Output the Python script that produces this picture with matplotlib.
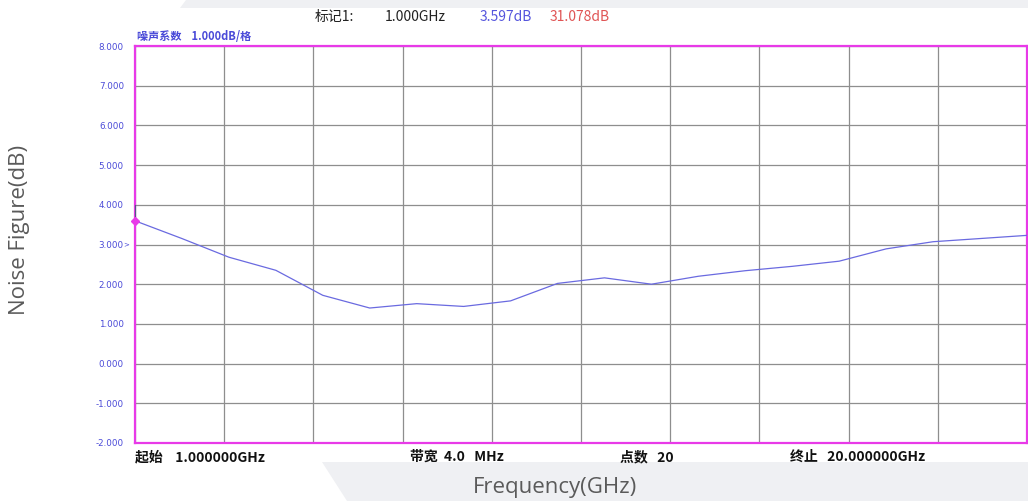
import matplotlib

matplotlib.use("Agg")
import matplotlib.pyplot as plt
from matplotlib.patches import Polygon

# trace values
FREQ_GHZ = list(range(1, 21))
NOISE_FIGURE_DB = [3.597, 3.15, 2.68, 2.35, 1.72, 1.40, 1.51, 1.44, 1.58, 2.02,
                   2.16, 2.00, 2.20, 2.34, 2.45, 2.58, 2.89, 3.07, 3.15, 3.23]
Y_TICKS = [-2, -1, 0, 1, 2, 3, 4, 5, 6, 7, 8]
X_START, X_STOP = 1.0, 20.0

CJK = ["Noto Sans CJK SC", "DejaVu Sans"]
BLUE = "#4a4ad8"
MAGENTA = "#e83ae8"
GRID = "#8e8e8e"
BAND = "#eff0f3"

W, H = 1028, 501
fig = plt.figure(figsize=(W / 100, H / 100), dpi=100)


def px(x, y):
    return (x / W, 1 - y / H)


# light grey decorative bands behind the screenshot
fig.patches.append(Polygon([px(180, 8), px(186, 0), px(1028, 0), px(1028, 8)],
                           closed=True, transform=fig.transFigure,
                           facecolor=BAND, edgecolor="none", zorder=0))
fig.patches.append(Polygon([px(322, 462), px(1028, 462), px(1028, 501), px(347, 501)],
                           closed=True, transform=fig.transFigure,
                           facecolor=BAND, edgecolor="none", zorder=0))

ax = fig.add_axes([135 / W, 1 - 443 / H, (1027 - 135) / W, (443 - 46) / H])
ax.plot(FREQ_GHZ, NOISE_FIGURE_DB, color="#6a6ae0", linewidth=0.9, zorder=3)
ax.plot([FREQ_GHZ[0]], [NOISE_FIGURE_DB[0]], marker="D", color=MAGENTA,
        markersize=4, clip_on=False, zorder=4)
ax.plot([FREQ_GHZ[0], FREQ_GHZ[0]], [3.72, 4.0], color="#555588",
        linewidth=0.8, clip_on=False, zorder=4)

ax.set_xlim(X_START, X_STOP)
ax.set_ylim(Y_TICKS[0], Y_TICKS[-1])
step = (X_STOP - X_START) / 10
ax.set_xticks([X_START + i * step for i in range(11)])
ax.set_yticks(Y_TICKS)
ax.set_yticklabels([f"{v:.3f}" for v in Y_TICKS], color=BLUE, fontsize=6.3)
ax.tick_params(axis="x", length=0, labelbottom=False)
ax.tick_params(axis="y", length=0, pad=8)
ax.grid(True, color=GRID, linewidth=0.9)
for side in ax.spines.values():
    side.set_color(MAGENTA)
    side.set_linewidth(1.6)

ax.text(-0.01, 3.0, ">", transform=ax.get_yaxis_transform(), color=BLUE,
        fontsize=5, ha="center", va="center")

# screen annotations
fig.text(*px(315, 17), "标记1:", family=CJK, fontsize=10, color="#222222", va="center")
fig.text(*px(385, 17), "1.000GHz", family=CJK, fontsize=10, color="#222222", va="center")
fig.text(*px(480, 17), "3.597dB", family=CJK, fontsize=10, color="#5555dd", va="center")
fig.text(*px(550, 17), "31.078dB", family=CJK, fontsize=10, color="#e05555", va="center")
fig.text(*px(137, 37), "噪声系数    1.000dB/格", family=CJK, fontsize=8,
         color=BLUE, fontweight="bold", va="center")

bottom_y = 457
for x, label in [(135, "起始    1.000000GHz"), (410, "带宽  4.0   MHz"),
                 (620, "点数   20"), (790, "终止   20.000000GHz")]:
    fig.text(*px(x, bottom_y), label, family=CJK, fontsize=10, color="#111111",
             fontweight="bold", va="center")

fig.text(*px(555, 488), "Frequency(GHz)", family="Open Sans", fontsize=16,
         color="#5a5a5a", ha="center", va="center")
fig.text(*px(20, 230), "Noise Figure(dB)", family="Open Sans", fontsize=16,
         color="#5a5a5a", ha="center", va="center", rotation=90)

fig.savefig("out.png", dpi=100)
